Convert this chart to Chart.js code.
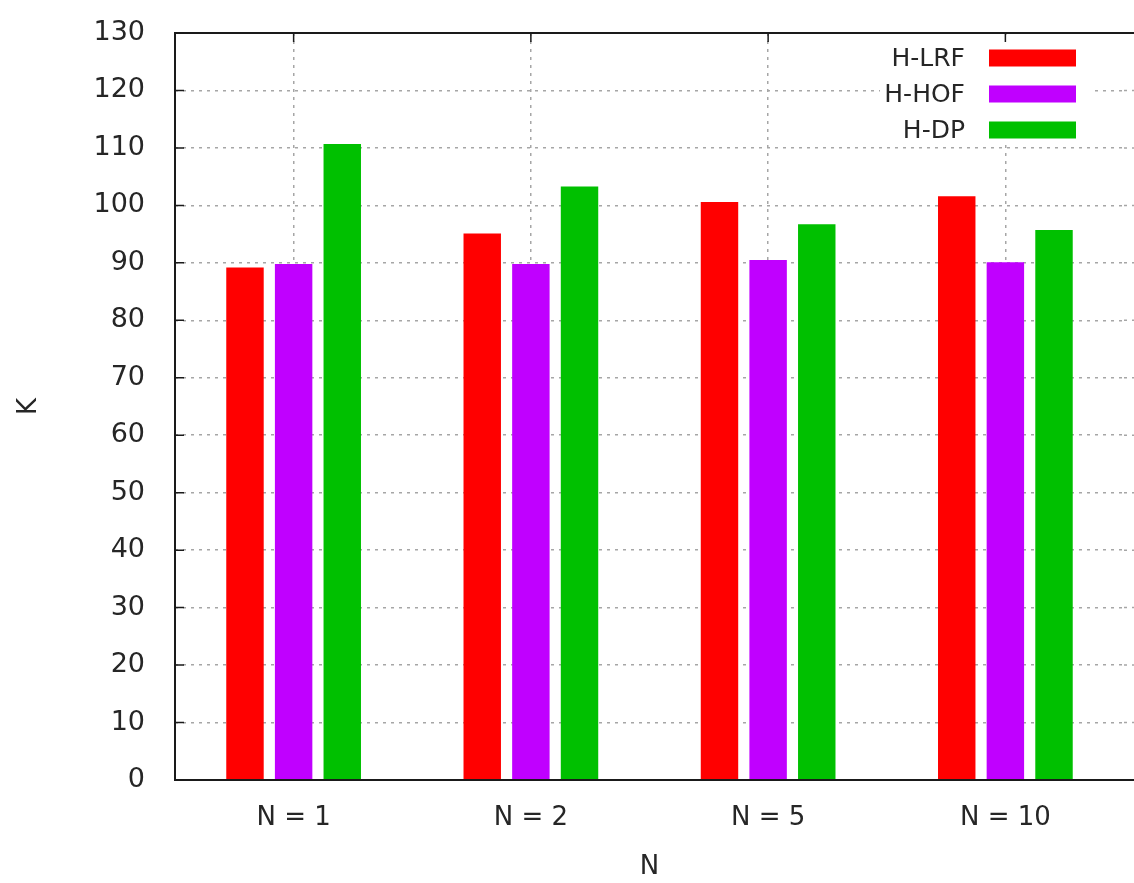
<!DOCTYPE html>
<html>
<head>
<meta charset="utf-8">
<script src="https://cdn.jsdelivr.net/npm/chart.js@4.4.1/dist/chart.umd.min.js"></script>
<style>
  html, body { margin: 0; padding: 0; background: #fff; }
  #wrap { width: 1134px; height: 883px; }
</style>
</head>
<body>
<div id="wrap"><canvas id="myChart"></canvas></div>
<script>
// values
const labels = ['N = 1', 'N = 2', 'N = 5', 'N = 10']
const series_names = ['H-LRF', 'H-HOF', 'H-DP']
const lrf = [89.2, 95.1, 100.6, 101.6]
const hof = [89.8, 89.8, 90.5, 90.1]
const dp = [110.7, 103.3, 96.7, 95.7]
const colors = ['#ff0000', '#c000ff', '#00c000']
const y_min = 0
const y_max = 130
const y_step = 10

Chart.defaults.font.family = "'DejaVu Sans', sans-serif"
Chart.defaults.color = '#262626'

const grid_color = '#a6a6a6'

// gnuplot style frame, inward ticks and key (text left of the sample)
const gnuplot_look = {
  id: 'gnuplot_look',
  beforeDatasetsDraw(chart) {
    // the plot runs off the right edge of the picture: carry the grid on
    const ctx = chart.ctx
    const area = chart.chartArea
    const y = chart.scales.y
    ctx.save()
    ctx.strokeStyle = grid_color
    ctx.lineWidth = 1.5
    ctx.setLineDash([3, 5])
    ctx.beginPath()
    y.ticks.forEach(t => {
      const py = y.getPixelForValue(t.value)
      ctx.moveTo(area.right, py)
      ctx.lineTo(chart.width, py)
    })
    ctx.stroke()
    ctx.restore()
  },
  afterDatasetsDraw(chart) {
    const ctx = chart.ctx
    const area = chart.chartArea
    const y = chart.scales.y
    const x = chart.scales.x
    ctx.save()

    // key
    const key_right = 965
    const box_left = 989
    const box_w = 87
    const box_h = 17
    const row0 = area.top + 25
    const row_gap = 36
    ctx.fillStyle = '#fff'
    ctx.fillRect(880, area.top + 2, 212, 110)
    ctx.font = "25px 'DejaVu Sans', sans-serif"
    ctx.textAlign = 'right'
    ctx.textBaseline = 'middle'
    chart.data.datasets.forEach((ds, i) => {
      const cy = row0 + i * row_gap
      ctx.fillStyle = '#262626'
      ctx.fillText(ds.label, key_right, cy + 1)
      ctx.fillStyle = ds.backgroundColor
      ctx.fillRect(box_left, cy - box_h / 2, box_w, box_h)
    })

    // frame
    ctx.strokeStyle = '#1a1a1a'
    ctx.lineWidth = 2
    ctx.beginPath()
    ctx.moveTo(chart.width + 2, area.top)
    ctx.lineTo(area.left, area.top)
    ctx.lineTo(area.left, area.bottom)
    ctx.lineTo(chart.width + 2, area.bottom)
    ctx.stroke()

    // inward ticks
    ctx.lineWidth = 1.5
    ctx.beginPath()
    y.ticks.forEach(t => {
      const py = y.getPixelForValue(t.value)
      ctx.moveTo(area.left, py)
      ctx.lineTo(area.left + 9, py)
    })
    labels.forEach((l, i) => {
      const px = x.getPixelForValue(i)
      ctx.moveTo(px, area.top)
      ctx.lineTo(px, area.top + 9)
    })
    ctx.stroke()
    ctx.restore()
  }
}

const ctx = document.getElementById('myChart')

new Chart(ctx, {
  type: 'bar',
  data: {
    labels: labels,
    datasets: [
      { label: series_names[0], data: lrf, backgroundColor: colors[0] },
      { label: series_names[1], data: hof, backgroundColor: colors[1] },
      { label: series_names[2], data: dp, backgroundColor: colors[2] }
    ]
  },
  options: {
    responsive: true,
    maintainAspectRatio: false,
    animation: false,
    layout: { padding: { top: 33, right: 10, left: 0, bottom: 0 } },
    datasets: {
      bar: { categoryPercentage: 0.615, barPercentage: 0.77 }
    },
    plugins: {
      legend: { display: false },
      tooltip: { enabled: false }
    },
    scales: {
      x: {
        grid: { offset: false, drawTicks: false, color: grid_color, lineWidth: 1.5 },
        border: { display: false, dash: [3, 5] },
        ticks: { font: { size: 26 }, padding: 23 },
        title: { display: true, text: 'N', font: { size: 26 }, padding: { top: 0, bottom: 0 } },
        afterFit(scale) {
          scale.height = 103
          scale.paddingLeft = 0
          scale.paddingRight = 0
        }
      },
      y: {
        min: y_min,
        max: y_max,
        grid: { drawTicks: false, color: grid_color, lineWidth: 1.5 },
        border: { display: false, dash: [3, 5] },
        ticks: { stepSize: y_step, font: { size: 27 }, padding: 30 },
        title: { display: true, text: 'K', font: { size: 26 }, padding: { top: 14, bottom: 0 } },
        afterFit(scale) {
          scale.width = 175
          scale.paddingTop = 0
          scale.paddingBottom = 0
        }
      }
    }
  },
  plugins: [gnuplot_look]
})
</script>
</body>
</html>
